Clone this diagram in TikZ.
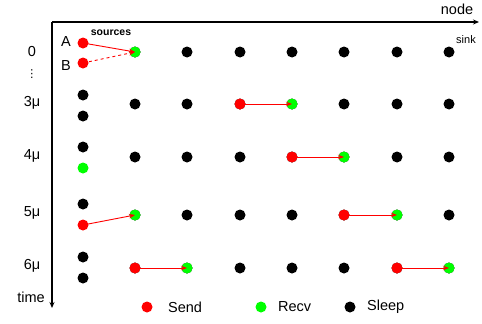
\documentclass[tikz,border=0pt]{standalone}
\usepackage{fontspec}
\setmainfont{Liberation Sans}
\newfontfamily\symfont{DejaVu Sans}
\usetikzlibrary{arrows.meta}
\begin{document}
\begin{tikzpicture}[x=1pt,y=-1pt,
  dot/.style={circle,inner sep=0pt,minimum size=11pt,fill=#1},
  axis/.style={line width=1.3pt,-{Stealth[length=6pt,width=5pt]}},
  msg/.style={red,line width=0.9pt,-{Stealth[length=6pt,width=4.5pt]}},
  lab/.style={font=\fontsize{14.5}{16}\selectfont,inner sep=0pt},
  small/.style={font=\fontsize{11}{12}\selectfont,inner sep=0pt}]
\useasboundingbox (0,0) rectangle (482,324);
% axes
\coordinate (o) at (52,22);
\coordinate (xe) at (479,22);
\coordinate (ye) at (52,308);
\draw[axis] (o) -- (xe);
\draw[axis] (o) -- (ye);
\node[lab] (tnode) at (457,9) {node};
\node[lab] (ttime) at (31,297) {time};
% row labels
\node[lab] (l0) at (32,52) {0};
\node[inner sep=0pt,font=\symfont\fontsize{11}{12}\selectfont] (ld) at (32,74) {⋮};
\node[lab] (l3) at (32,103) {3μ};
\node[lab] (l4) at (32,156) {4μ};
\node[lab] (l5) at (32,213) {5μ};
\node[lab] (l6) at (32,266) {6μ};
\node[lab] (lA) at (66,42) {A};
\node[lab] (lB) at (66,66) {B};
\node[small,font=\fontsize{10.5}{12}\selectfont\bfseries] (src) at (111,33) {sources};
\node[small] (snk) at (466,40) {sink};
% column 0 dots
\node[dot=red] (A) at (83,43) {};
\node[dot=red] (B) at (83,63) {};
\node[dot=black] (c1a) at (83,95) {};
\node[dot=black] (c1b) at (83,116) {};
\node[dot=black] (c2a) at (83,147) {};
\node[dot=green] (c2b) at (83,168) {};
\node[dot=black] (c3a) at (83,204) {};
\node[dot=red] (c3b) at (83,225) {};
\node[dot=black] (c4a) at (83,257) {};
\node[dot=black] (c4b) at (83,278) {};
% grid dots
\foreach \r/\y in {0/52,1/104,2/157,3/215,4/268}{
  \foreach \c/\x in {1/135,2/187,3/240,4/292,5/344,6/397,7/449}{
    \node[dot=black] (n-\r-\c) at (\x,\y) {};
  }
}
% recolour
\node[dot=green] (g01) at (n-0-1) {};
\node[dot=red] (s13) at (n-1-3) {};
\node[dot=green] (g14) at (n-1-4) {};
\node[dot=red] (s24) at (n-2-4) {};
\node[dot=green] (g25) at (n-2-5) {};
\node[dot=green] (g31) at (n-3-1) {};
\node[dot=red] (s35) at (n-3-5) {};
\node[dot=green] (g36) at (n-3-6) {};
\node[dot=red] (s41) at (n-4-1) {};
\node[dot=green] (g42) at (n-4-2) {};
\node[dot=red] (s46) at (n-4-6) {};
\node[dot=green] (g47) at (n-4-7) {};
% messages
\draw[msg] (A.center) -- (g01.center);
\draw[msg,dashed] (B.center) -- (g01.center);
\draw[msg] (s13.center) -- (g14.center);
\draw[msg] (s24.center) -- (g25.center);
\draw[msg] (c3b.center) -- (g31.center);
\draw[msg] (s35.center) -- (g36.center);
\draw[msg] (s41.center) -- (g42.center);
\draw[msg] (s46.center) -- (g47.center);
% legend
\node[dot=red] (ks) at (147,307) {};
\node[lab,anchor=west] (kst) at (168,307) {Send};
\node[dot=green] (kr) at (261,307) {};
\node[lab,anchor=west] (krt) at (278,307) {Recv};
\node[dot=black] (kl) at (350,307) {};
\node[lab,anchor=west] (klt) at (367,307) {Sleep};
\end{tikzpicture}
\end{document}
